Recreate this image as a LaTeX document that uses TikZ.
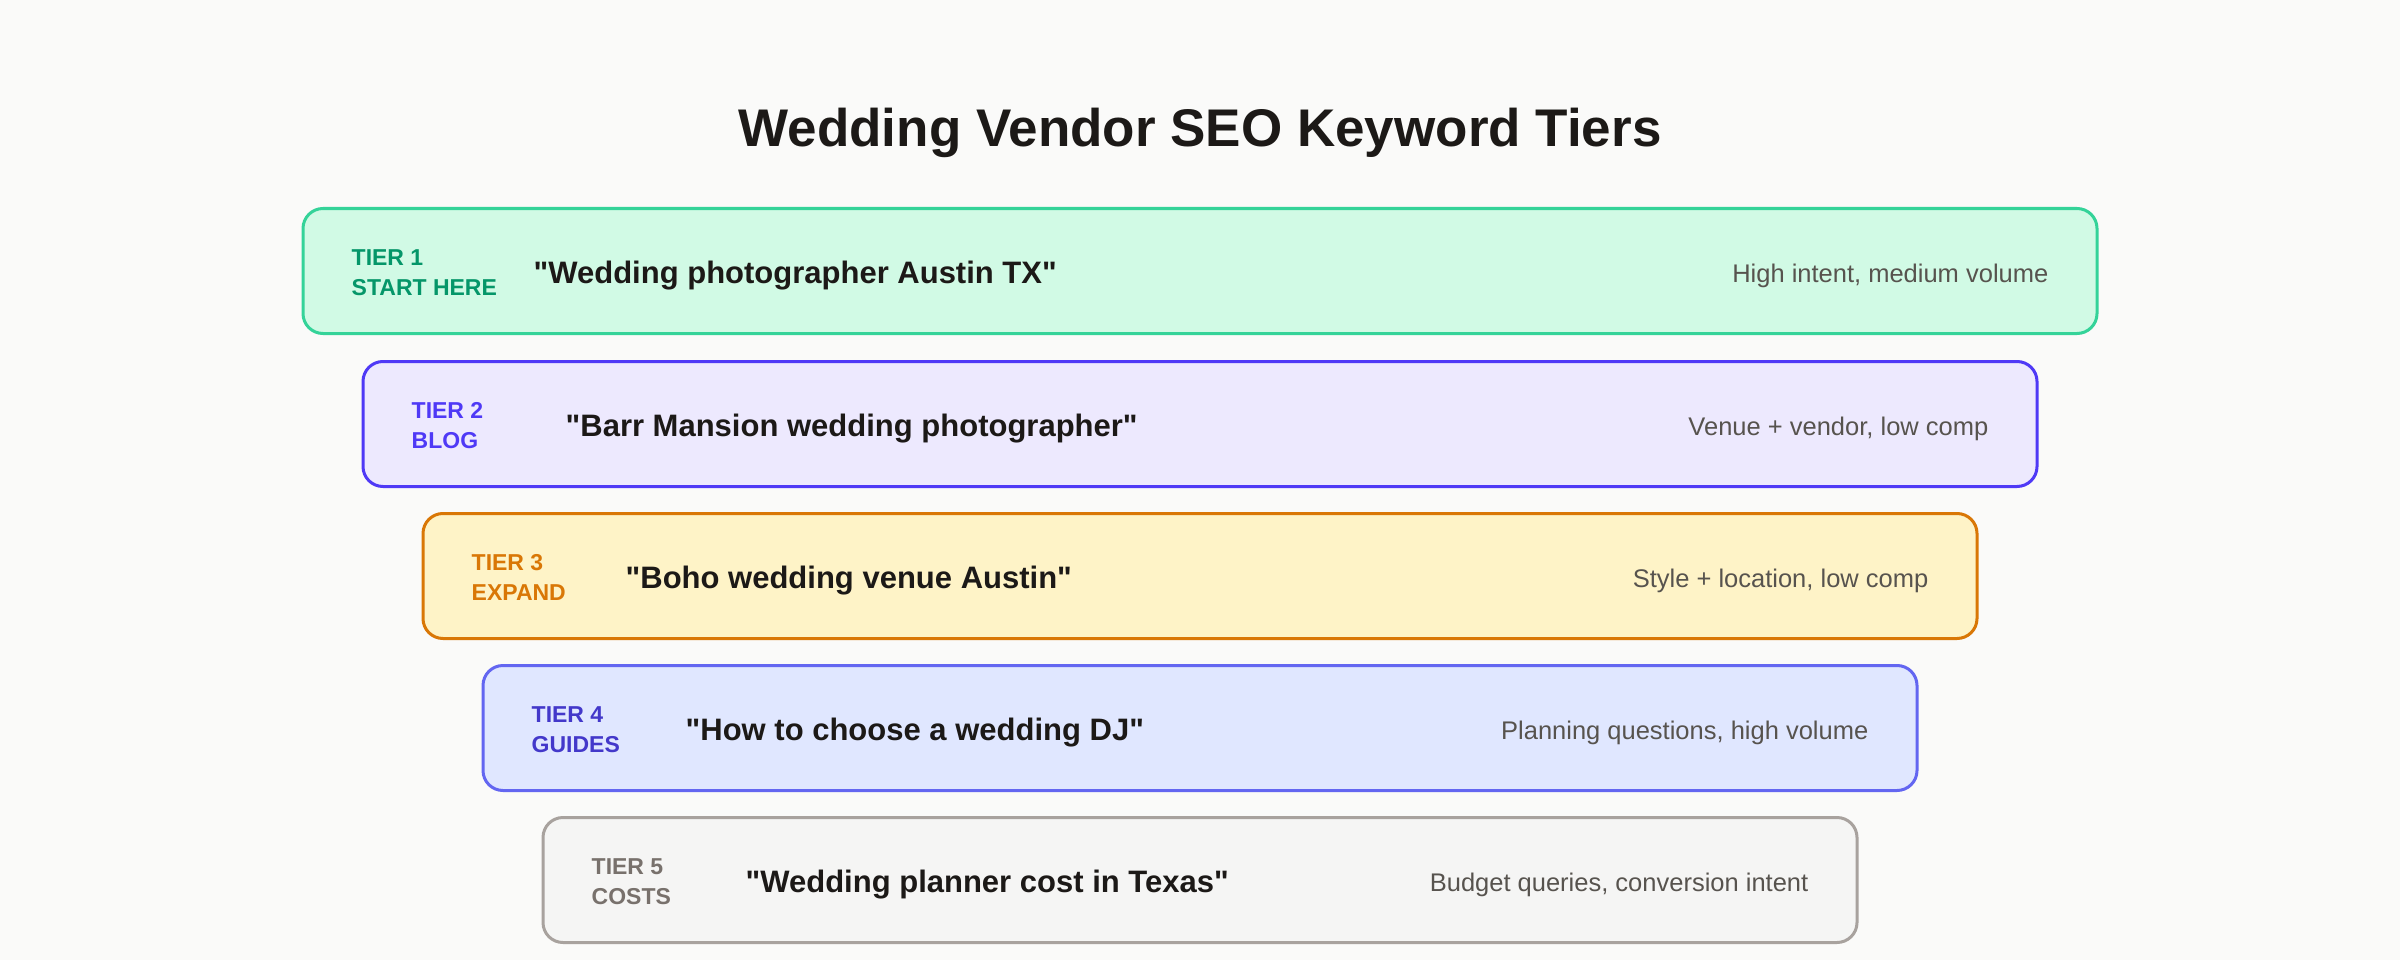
\documentclass[tikz,border=0pt]{standalone}
\usepackage{fontspec}
\setmainfont{Liberation Sans}
\newfontfamily\titlefont{Liberation Sans}
\definecolor{bgc}{HTML}{FAFAF9}
\definecolor{ink}{HTML}{1C1917}
\definecolor{sub}{HTML}{57534E}
\definecolor{fa}{HTML}{D1FAE5}\definecolor{ba}{HTML}{34D399}\definecolor{la}{HTML}{059669}
\definecolor{fb}{HTML}{EDE9FE}\definecolor{bb}{HTML}{4F39F6}\definecolor{lb}{HTML}{4F39F6}
\definecolor{fc}{HTML}{FEF3C7}\definecolor{bc}{HTML}{D97706}\definecolor{lc}{HTML}{D97706}
\definecolor{fd}{HTML}{E0E7FF}\definecolor{bd}{HTML}{6366F1}\definecolor{ld}{HTML}{4338CA}
\definecolor{fe}{HTML}{F5F5F4}\definecolor{be}{HTML}{A8A29E}\definecolor{le}{HTML}{78716C}
\newcommand{\qq}{\textquotedbl}
\tikzset{
  tierbox/.style={draw, line width=3pt, rounded corners=20pt, minimum height=125pt, inner sep=0pt},
  lbl/.style={anchor=base west, inner sep=0pt, font=\bfseries\fontsize{23}{30}\selectfont},
  kw/.style={anchor=base west, inner sep=0pt, text=ink, font=\bfseries\fontsize{31}{38}\selectfont},
  note/.style={anchor=base east, inner sep=0pt, text=sub, font=\fontsize{25.5}{32}\selectfont},
  ttl/.style={anchor=base, inner sep=0pt, text=ink, font=\titlefont\bfseries\fontsize{53}{60}\selectfont}
}
\begin{document}
\begin{tikzpicture}[x=1pt,y=-1pt]
\fill[bgc] (0,0) rectangle (2400,960);
\useasboundingbox (0,0) rectangle (2400,960);
\node[ttl] (title) at (1200,147) {Wedding Vendor SEO Keyword Tiers};
% tier 1
\node[tierbox, fill=fa, draw=ba, minimum width=1794pt] (t1) at (1200,271) {};
\node[lbl, text=la] (t1a) at ([xshift=50pt,yshift=5.5pt]t1.west) {TIER 1};
\node[lbl, text=la] (t1b) at ([xshift=50pt,yshift=-24pt]t1.west) {START HERE};
\node[kw] (t1k) at ([xshift=232pt,yshift=-12.5pt]t1.west) {\qq Wedding photographer Austin TX\qq};
\node[note] (t1n) at ([xshift=-50pt,yshift=-11pt]t1.east) {High intent, medium volume};
% tier 2
\node[tierbox, fill=fb, draw=bb, minimum width=1674pt] (t2) at (1200,424) {};
\node[lbl, text=lb] (t2a) at ([xshift=50pt,yshift=5.5pt]t2.west) {TIER 2};
\node[lbl, text=lb] (t2b) at ([xshift=50pt,yshift=-24pt]t2.west) {BLOG};
\node[kw] (t2k) at ([xshift=204pt,yshift=-12.5pt]t2.west) {\qq Barr Mansion wedding photographer\qq};
\node[note] (t2n) at ([xshift=-50pt,yshift=-11pt]t2.east) {Venue + vendor, low comp};
% tier 3
\node[tierbox, fill=fc, draw=bc, minimum width=1554pt] (t3) at (1200,576) {};
\node[lbl, text=lc] (t3a) at ([xshift=50pt,yshift=5.5pt]t3.west) {TIER 3};
\node[lbl, text=lc] (t3b) at ([xshift=50pt,yshift=-24pt]t3.west) {EXPAND};
\node[kw] (t3k) at ([xshift=204pt,yshift=-12.5pt]t3.west) {\qq Boho wedding venue Austin\qq};
\node[note] (t3n) at ([xshift=-50pt,yshift=-11pt]t3.east) {Style + location, low comp};
% tier 4
\node[tierbox, fill=fd, draw=bd, minimum width=1434pt] (t4) at (1200,728) {};
\node[lbl, text=ld] (t4a) at ([xshift=50pt,yshift=5.5pt]t4.west) {TIER 4};
\node[lbl, text=ld] (t4b) at ([xshift=50pt,yshift=-24pt]t4.west) {GUIDES};
\node[kw] (t4k) at ([xshift=204pt,yshift=-12.5pt]t4.west) {\qq How to choose a wedding DJ\qq};
\node[note] (t4n) at ([xshift=-50pt,yshift=-11pt]t4.east) {Planning questions, high volume};
% tier 5
\node[tierbox, fill=fe, draw=be, minimum width=1314pt] (t5) at (1200,880) {};
\node[lbl, text=le] (t5a) at ([xshift=50pt,yshift=5.5pt]t5.west) {TIER 5};
\node[lbl, text=le] (t5b) at ([xshift=50pt,yshift=-24pt]t5.west) {COSTS};
\node[kw] (t5k) at ([xshift=204pt,yshift=-12.5pt]t5.west) {\qq Wedding planner cost in Texas\qq};
\node[note] (t5n) at ([xshift=-50pt,yshift=-11pt]t5.east) {Budget queries, conversion intent};
\end{tikzpicture}
\end{document}
